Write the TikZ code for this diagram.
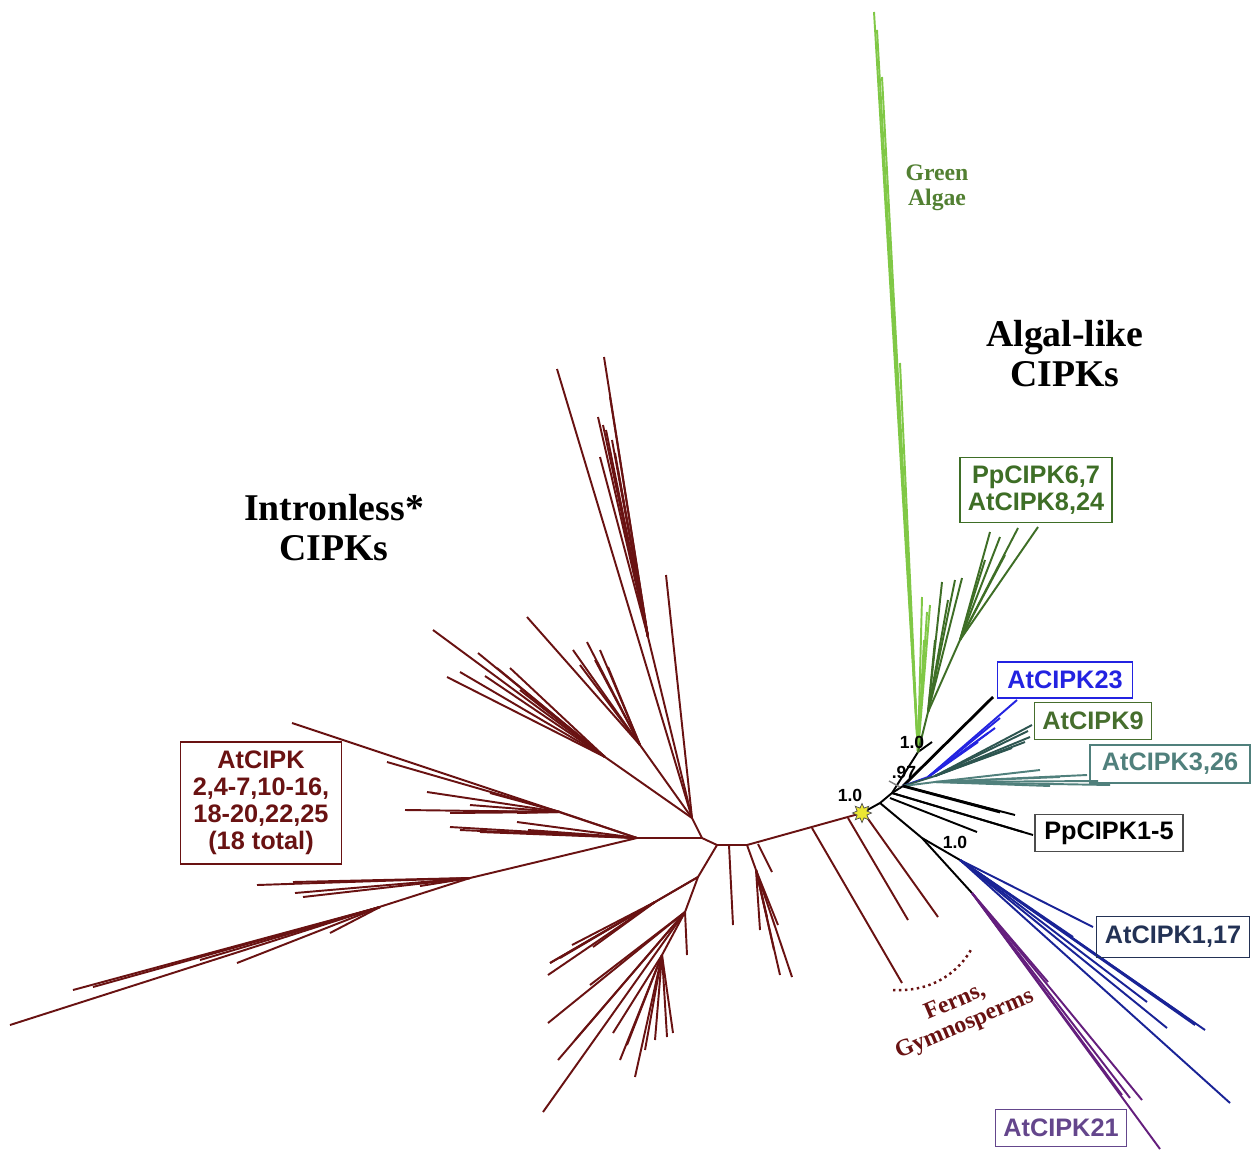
\documentclass[tikz,border=0pt]{standalone}
\usepackage{fontspec}
\setmainfont{Liberation Serif}
\setsansfont{Liberation Sans}
\usetikzlibrary{shapes.geometric}
\definecolor{brn}{RGB}{105,18,18}
\definecolor{lgrn}{RGB}{128,200,70}
\definecolor{dgrn}{RGB}{62,110,38}
\definecolor{bluA}{RGB}{35,35,225}
\definecolor{tealA}{RGB}{45,85,80}
\definecolor{tealB}{RGB}{80,128,124}
\definecolor{navyA}{RGB}{25,35,150}
\definecolor{navyT}{RGB}{35,50,85}
\definecolor{purA}{RGB}{100,30,125}
\definecolor{purT}{RGB}{100,70,140}
\definecolor{oliveT}{RGB}{70,110,45}
\definecolor{starY}{RGB}{235,230,50}
\begin{document}
\begin{tikzpicture}[x=0.02cm,y=-0.02cm,
		br/.style={brn,line width=1.1pt},
		blk/.style={black,line width=1.1pt},
		lg/.style={lgrn,line width=1.1pt},
		dg/.style={dgrn,line width=1.1pt},
		lbox/.style={draw,line width=0.7pt,inner sep=0pt,align=center,
			font=\sffamily\bfseries\fontsize{14.4}{15.5}\selectfont},
		bigtxt/.style={align=center,font=\rmfamily\bfseries\fontsize{21.5}{22.7}\selectfont},
		smalltxt/.style={align=center,font=\rmfamily\bfseries\fontsize{13.5}{14}\selectfont},
		supp/.style={inner sep=0pt,font=\sffamily\bfseries\fontsize{10}{11}\selectfont}]
	\useasboundingbox [fill=white] (0,0) rectangle (1253,1149);
	% hubs of the tree
	\coordinate (star) at (862,813);
	\coordinate (b0) at (747,845);
	\coordinate (j0) at (717,845);
	\coordinate (h) at (702,838);
	\coordinate (h2) at (692,818);
	\coordinate (j2) at (637,838);
	\coordinate (ul) at (560,812);
	\coordinate (ll) at (470,878);
	\coordinate (ll2) at (380,907);
	\coordinate (l1) at (698,877);
	\coordinate (la) at (655,902);
	\coordinate (l2) at (685,912);
	\coordinate (l3) at (662,955);
	\coordinate (m1) at (605,757);
	\coordinate (m2) at (640,745);
	\coordinate (t1) at (648,637);
	\coordinate (b1) at (756,870);
	% intronless clade
	\draw [br] (star) -- (b0) -- (j0) -- (h) -- (j2) -- (ll) -- (10,1025);
	\draw [br] (j0) -- (l1) -- (l2) -- (l3);
	\draw [br] (h) -- (h2) -- (t1);
	\draw [br] (l1) -- (la);
	\draw [br] (h2) -- (m1);
	\draw [br] (h2) -- (m2);
	\draw [br] (j2) -- (ul);
	% ferns, gymnosperms
	\draw [br] (812,828) -- (902,983);
	\draw [br] (848,818) -- (908,920);
	\draw [br] (866,816) -- (938,917);
	\draw [br] (b0) -- (b1);
	\draw [br] (758,844) -- (772,872);
	\draw [br] (729,845) -- (733,925);
	\foreach \x/\y in {780/975,792/977,760/930,767/917,778/925,774/950}
		\draw [br] (b1) -- (\x,\y);
	% lower clade
	\foreach \x/\y in {550/963,548/975,572/945,593/947,560/958}
		\draw [br] (la) -- (\x,\y);
	\draw [br] (l1) -- (550,963);
	\draw [br] (l2) -- (687,955);
	\foreach \x/\y in {548/1023,590/985,558/1060,543/1112,575/1040}
		\draw [br] (l2) -- (\x,\y);
	\foreach \x/\y in {613/1033,627/1045,635/1077,667/1037,673/1033,645/1050,620/1060,655/1040}
		\draw [br] (l3) -- (\x,\y);
	% left clades
	\foreach \x/\y in {257/885,293/882,295/893,303/897,420/886}
		\draw [br] (ll) -- (\x,\y);
	\foreach \x/\y in {73/990,93/987,237/963,277/937,330/933,200/960}
		\draw [br] (ll2) -- (\x,\y);
	\foreach \x/\y in {292/723,460/830,450/827,528/830,517/822,480/832}
		\draw [br] (j2) -- (\x,\y);
	\foreach \x/\y in {387/762,427/792,405/810,450/813,463/811,490/793,517/813,470/805}
		\draw [br] (ul) -- (\x,\y);
	% upper clades
	\foreach \x/\y in {433/630,447/677,460/672,478/653,497/668,510/668,520/690,485/676}
		\draw [br] (m1) -- (\x,\y);
	\foreach \x/\y in {527/617,573/650,587/642,608/667,595/660,600/650,580/665}
		\draw [br] (m2) -- (\x,\y);
	\foreach \x/\y in {604/357,610/397,598/417,603/425,600/457,615/453,612/440,606/430,618/470}
		\draw [br] (t1) -- (\x,\y);
	\draw [br] (h2) -- (557,369);
	\draw [br] (h2) -- (666,575);
	% algal-like clade
	\coordinate (n0) at (880,803);
	\coordinate (r0) at (892,793);
	\coordinate (r) at (903,786);
	\coordinate (a1) at (918,752);
	\coordinate (dg1) at (928,712);
	\coordinate (dg2) at (960,640);
	\coordinate (bh) at (928,777);
	\coordinate (th) at (935,776);
	\coordinate (th2) at (935,782);
	\coordinate (n1) at (922,838);
	\coordinate (nb) at (960,860);
	\coordinate (np) at (972,893);
	\draw [blk] (star) -- (n0) -- (r0) -- (r);
	\draw [blk] (r0) -- (a1) -- (932,742);
	\draw [gray,line width=0.8pt] (889,781) -- (900,787);
	\foreach \x/\y in {874/12,877/30,882/77,900/363,922/597,927/612,930/605,924/640}
		\draw [lg] (a1) -- (\x,\y);
	\draw [dg] (a1) -- (dg1) -- (dg2);
	\foreach \x/\y in {1038/527,1018/528,990/532,1000/537,1005/555,985/560}
		\draw [dg] (dg2) -- (\x,\y);
	\foreach \x/\y in {955/580,962/578,942/582,948/600,935/640}
		\draw [dg] (dg1) -- (\x,\y);
	\draw [black,line width=1.6pt] (r) -- (993,697);
	\draw [bluA,line width=1.1pt] (r) -- (bh);
	\foreach \x/\y in {1017/700,995/728,988/733,978/742,1000/718}
		\draw [bluA,line width=1.1pt] (bh) -- (\x,\y);
	\foreach \x/\y in {1032/725,1030/737,1025/742,1012/748,1028/731}
		\draw [tealA,line width=1.1pt] (th) -- (\x,\y);
	\draw [tealA,line width=1.1pt] (r) -- (th);
	\draw [tealB,line width=1.1pt] (r) -- (th2);
	\foreach \x/\y in {1087/775,1110/785,1040/770,1060/777,1098/781,1050/786}
		\draw [tealB,line width=1.1pt] (th2) -- (\x,\y);
	\draw [blk] (r) -- (1015,815);
	\draw [black,line width=1.6pt] (r) -- (1000,812);
	\draw [blk] (r0) -- (1033,835);
	\draw [blk] (r0) -- (1023,832);
	\draw [blk] (890,798) -- (977,832);
	\draw [blk] (n0) -- (n1) -- (nb);
	\draw [blk] (n1) -- (np);
	\foreach \x/\y in {1093/927,1073/937,1205/1030,1183/1015,1167/1028,1230/1103,1147/1002,1195/1025}
		\draw [navyA,line width=1.1pt] (nb) -- (\x,\y);
	\foreach \x/\y in {1160/1149,1142/1100,1122/1095,1048/982,1130/1098}
		\draw [purA,line width=1.1pt] (np) -- (\x,\y);
	% dotted bracket
	\coordinate (dotA) at (893,990);
	\coordinate (dotB) at (972,948);
	\draw [brn,line width=1.4pt,dotted] (dotA) .. controls (935,992) and (960,970) .. (dotB);
	% star and support values
	\node [star,star points=8,star point ratio=1.8,minimum size=0.38cm,inner sep=0pt,
		fill=starY,draw=black!70,line width=0.4pt] (root) at (star) {};
	\node [supp] (s1) at (850,795) {1.0};
	\node [supp] (s2) at (904,772) {.97};
	\node [supp] (s3) at (912,742) {1.0};
	\node [supp] (s4) at (955,842) {1.0};
	% group titles
	\node [bigtxt] (intr) at (334,528) {Intronless*\\CIPKs};
	\node [bigtxt] (algl) at (1065,354) {Algal-like\\CIPKs};
	\node [smalltxt,text=oliveT!80!lgrn] (galg) at (937,188) {Green\\Algae};
	\node [smalltxt,text=brn,rotate=23] (fern) at (960,1014) {Ferns,\\Gymnosperms};
	% boxed labels
	\node [lbox,draw=brn,text=brn,minimum width=3.22cm,minimum height=2.44cm,
		font=\sffamily\bfseries\fontsize{14.4}{15.3}\selectfont] (atbox) at (261,803)
		{AtCIPK\\2,4-7,10-16,\\18-20,22,25\\(18 total)};
	\node [lbox,draw=dgrn,text=dgrn,minimum width=3.04cm,minimum height=1.3cm] (pp67) at (1036,490) {PpCIPK6,7\\AtCIPK8,24};
	\node [lbox,draw=bluA,text=bluA,minimum width=2.7cm,minimum height=0.72cm] (at23) at (1065,680) {AtCIPK23};
	\node [lbox,draw=oliveT,text=oliveT,minimum width=2.34cm,minimum height=0.74cm] (at9) at (1093,721) {AtCIPK9};
	\node [lbox,draw=tealB,text=tealB,minimum width=3.2cm,minimum height=0.76cm] (at326) at (1170,764) {AtCIPK3,26};
	\node [lbox,draw=black!70,text=black,minimum width=2.96cm,minimum height=0.74cm] (pp15) at (1109,833) {PpCIPK1-5};
	\node [lbox,draw=navyT,text=navyT,minimum width=3.06cm,minimum height=0.82cm] (at117) at (1173,937) {AtCIPK1,17};
	\node [lbox,draw=purT,text=purT,minimum width=2.62cm,minimum height=0.74cm] (at21) at (1061,1128) {AtCIPK21};
\end{tikzpicture}
\end{document}
